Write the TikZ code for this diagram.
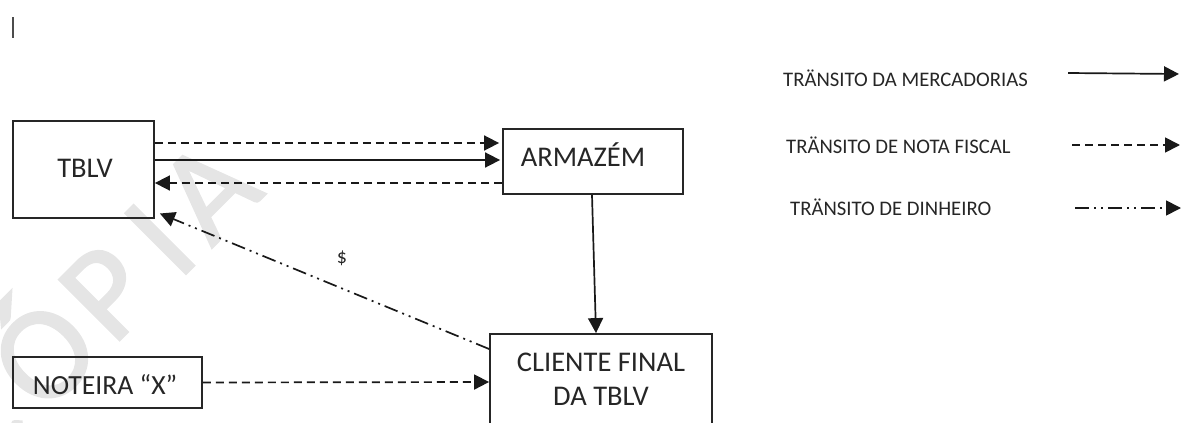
\documentclass[tikz,border=0pt]{standalone}
\usepackage{fontspec}
\setmainfont{Carlito}
\newfontfamily\markfont[LetterSpace=13,FakeBold=1.5]{Carlito}
\usetikzlibrary{arrows.meta}
\tikzset{
  boxnode/.style={draw=black!85,line width=1.8pt,inner sep=0pt,align=center},
  boxtext/.style={text=black!85,font=\fontsize{28.5}{34}\selectfont,inner sep=0pt,align=center},
  legendtext/.style={anchor=west,inner sep=0pt,text=black!85,font=\fontsize{20.7}{24}\selectfont},
  flow/.style={line width=1.7pt,draw=black!90,-{Triangle[length=15pt,width=15pt]}},
  notaflow/.style={flow,dash pattern=on 8pt off 5pt},
  moneyflow/.style={flow,dash pattern=on 14pt off 5pt on 2pt off 5pt on 2pt off 5pt},
}
\begin{document}
\begin{tikzpicture}[x=1pt,y=-1pt]
\useasboundingbox (0,0) rectangle (1181,423);
\clip (0,0) rectangle (1181,423);
\node[rotate=45,anchor=base,inner sep=0pt,text=black!10,font={\markfont\fontsize{134}{134}\selectfont}] (mark) at (124,336) {CÓ\kern9.4pt P\kern23.4pt I\kern13.4pt A};
\draw[line width=1.3pt,black!70] (13,17) -- (13,38);
\node[boxnode,minimum width=141pt,minimum height=97pt] (tblv) at (83.5,169.5) {};
\node[boxtext] (tblvt) at (85,168) {TBLV};
\node[boxnode,minimum width=180pt,minimum height=65pt] (arm) at (593,161.5) {};
\node[boxtext] (armt) at (583,155) {ARMAZÉM};
\node[boxnode,minimum width=222pt,minimum height=140pt] (cli) at (601,404) {};
\node[boxtext,font=\fontsize{28.5}{34}\selectfont] (clit) at (601,379) {CLIENTE FINAL\\DA TBLV};
\node[boxnode,minimum width=189pt,minimum height=51pt] (not) at (107.5,382.5) {};
\node[boxtext,font=\fontsize{27.7}{32}\selectfont] (nott) at (105,385) {NOTEIRA “X”};
\node[inner sep=0pt,text=black!85,font=\fontsize{20}{24}\selectfont] (dol) at (342,258) {\$};
\draw[notaflow] ([yshift=26.5pt]tblv.east) -- ([xshift=-3pt,yshift=18.5pt]arm.west);
\draw[flow] ([yshift=9.5pt]tblv.east) -- ([xshift=-2pt,yshift=1.5pt]arm.west);
\draw[notaflow] ([yshift=-21.5pt]arm.west) -- ([yshift=-13.5pt]tblv.east);
\draw[moneyflow] ([yshift=55pt]cli.west) -- ([xshift=5pt,yshift=-44pt]tblv.east);
\draw[flow] ([xshift=-1pt]arm.south) -- ([xshift=-5pt]cli.north);
\draw[notaflow] (not.east) -- ([yshift=22pt]cli.west);
\node[legendtext] (l1) at (783,78) {TRÄNSITO DA MERCADORIAS};
\node[legendtext] (l2) at (786,145) {TRÄNSITO DE NOTA FISCAL};
\node[legendtext] (l3) at (790,207) {TRÄNSITO DE DINHEIRO};
\coordinate (a1s) at (1068,73); \coordinate (a1e) at (1179,74);
\coordinate (a2s) at (1072,145); \coordinate (a2e) at (1180,145);
\coordinate (a3s) at (1075,208); \coordinate (a3e) at (1181,208);
\draw[flow] (a1s) -- (a1e);
\draw[notaflow] (a2s) -- (a2e);
\draw[moneyflow] (a3s) -- (a3e);
\end{tikzpicture}
\end{document}
